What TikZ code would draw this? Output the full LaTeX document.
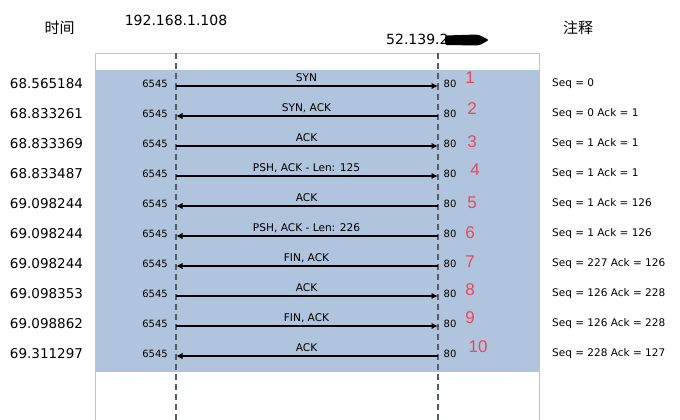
\documentclass[tikz,border=0pt]{standalone}
\usepackage{fontspec}
\setmainfont{DejaVu Sans}
\newfontfamily\cjk{Noto Sans CJK SC}
\newfontfamily\hand{Liberation Sans}
\usetikzlibrary{arrows.meta}
\definecolor{steel}{HTML}{B0C4DE}
\definecolor{framegray}{HTML}{C4C4C4}
\definecolor{life}{HTML}{555C66}
\definecolor{handred}{HTML}{E8475F}
\tikzset{
  timetxt/.style={font=\fontsize{13.5}{15}\selectfont, inner sep=0},
  header/.style={font=\fontsize{14}{16}\selectfont, inner sep=0},
  cjkhead/.style={font=\cjk\fontsize{15}{17}\selectfont, inner sep=0},
  port/.style={font=\fontsize{10}{12}\selectfont, inner sep=0},
  msg/.style={font=\fontsize{10.6}{12}\selectfont, inner sep=0, anchor=base},
  note/.style={font=\fontsize{10.5}{12}\selectfont, anchor=west, inner sep=0},
  num/.style={font=\hand\fontsize{17}{18}\selectfont, text=handred, inner sep=0},
  lifeline/.style={draw=life, line width=2pt, dash pattern=on 6pt off 4pt},
  msgarrow/.style={line width=2.3pt, -{Latex[length=6.5pt,width=6.5pt]}},
}
\begin{document}
\begin{tikzpicture}[x=1pt,y=-1pt]
\useasboundingbox (0,0) rectangle (680,420);
\fill[white] (0,0) rectangle (680,420);
% frame and band
\draw[framegray, line width=1pt] (95.5,420) |- (539.5,53.5) -- (539.5,420);
\fill[steel] (95.5,70) rectangle (539.5,372);
% headers
\node[cjkhead] (hTime) at (59.5,28) {时间};
\node[cjkhead] (hNote) at (578,28) {注释};
\node[header] (hA) at (176,20) {192.168.1.108};
\node[header, anchor=west] (hB) at (386,39) {52.139.2};
\fill[black, rounded corners=2pt] (445,35.5) -- (478,34.5) -- (489,40) -- (479,45.5) -- (445,45) -- cycle;
% lifelines
\coordinate (Ltop) at (176,53.5);
\coordinate (Lbot) at (176,420);
\coordinate (Rtop) at (438,53.5);
\coordinate (Rbot) at (438,420);
\draw[lifeline] (Ltop) -- (Lbot);
\draw[lifeline] (Rtop) -- (Rbot);
% rows
\foreach \i/\t/\m/\a/\b/\n in {
  1/68.565184/SYN/L/R/{Seq = 0},
  2/68.833261/{SYN, ACK}/R/L/{Seq = 0 Ack = 1},
  3/68.833369/ACK/L/R/{Seq = 1 Ack = 1},
  4/68.833487/{PSH, ACK - Len: 125}/L/R/{Seq = 1 Ack = 1},
  5/69.098244/ACK/R/L/{Seq = 1 Ack = 126},
  6/69.098244/{PSH, ACK - Len: 226}/R/L/{Seq = 1 Ack = 126},
  7/69.098244/{FIN, ACK}/R/L/{Seq = 227 Ack = 126},
  8/69.098353/ACK/L/R/{Seq = 126 Ack = 228},
  9/69.098862/{FIN, ACK}/L/R/{Seq = 126 Ack = 228},
  10/69.311297/ACK/R/L/{Seq = 228 Ack = 127}}{
  \pgfmathsetmacro\y{56+30*\i}
  \coordinate (L\i) at (176,\y);
  \coordinate (R\i) at (438,\y);
  \node[timetxt] (t\i) at (46.5,\y-2) {\t};
  \node[port, anchor=east] (pl\i) at (168,\y-2) {6545};
  \node[port, anchor=west] (pr\i) at (443.5,\y-2) {80};
  \node[msg] (m\i) at (306.5,\y-4.5) {\m};
  \node[note] (n\i) at (552,\y-2.5) {\n};
  \draw[msgarrow] (\a\i) -- (\b\i);
}
% handwritten step numbers
\foreach \k/\x/\yy in {1/470/78,2/472/109,3/472/142,4/475/170,5/472/203,6/470/233,7/470/262,8/470/290,9/470/318,10/478/347}{
  \node[num] (k\k) at (\x,\yy) {\k};
}
\end{tikzpicture}
\end{document}
